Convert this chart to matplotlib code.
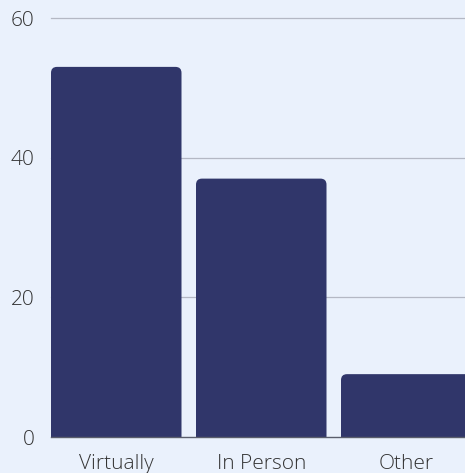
import matplotlib
matplotlib.use('Agg')
import matplotlib.pyplot as plt
from matplotlib.patches import FancyBboxPatch

categories = ['Virtually', 'In Person', 'Other']
values = [53, 37, 9]
y_ticks = [0, 20, 40, 60]

BG = '#eaf1fc'
C_BAR = '#30366a'
C_GRID = '#b4b8c4'
C_ZERO = '#5a5e6c'
C_TEXT = '#333333'

plt.rcParams['font.family'] = ['Open Sans', 'DejaVu Sans']

W, H = 465, 473
fig = plt.figure(figsize=(W / 100, H / 100), dpi=100, facecolor=BG)
ax = fig.add_axes([51 / W, 36 / H, 414 / W, 419 / H], facecolor=BG)

bw = 0.9
x0 = -bw / 2
x1 = x0 + 414 / 145
ax.set_xlim(x0, x1)
ax.set_ylim(0, 60)

# px per data unit, so the corner rounding comes out circular
px_x = 414 / (x1 - x0)
px_y = 419 / 60
r = 6 / px_x
aspect = px_x / px_y

for i, v in enumerate(values):
    # start below zero so the axes clip gives square bottom corners
    bar = FancyBboxPatch((i - bw / 2, -3), bw, v + 3,
                         boxstyle=f'round,pad=0,rounding_size={r}',
                         mutation_aspect=aspect,
                         fc=C_BAR, ec='none', zorder=3)
    ax.add_patch(bar)

for t in y_ticks[1:]:
    ax.axhline(t, color=C_GRID, lw=0.9, zorder=1, clip_on=False)
ax.axhline(0, color=C_ZERO, lw=1.0, zorder=4, clip_on=False)

ax.set_yticks(y_ticks)
ax.set_yticklabels([str(t) for t in y_ticks])
ax.set_xticks(range(len(categories)))
ax.set_xticklabels(categories)
ax.tick_params(axis='y', length=0, pad=12, labelsize=15, labelcolor=C_TEXT)
ax.tick_params(axis='x', length=0, pad=12, labelsize=15, labelcolor=C_TEXT)
for lab in ax.get_xticklabels() + ax.get_yticklabels():
    lab.set_fontweight('light')
for s in ax.spines.values():
    s.set_visible(False)

fig.savefig('out.png', dpi=100, facecolor=BG)
